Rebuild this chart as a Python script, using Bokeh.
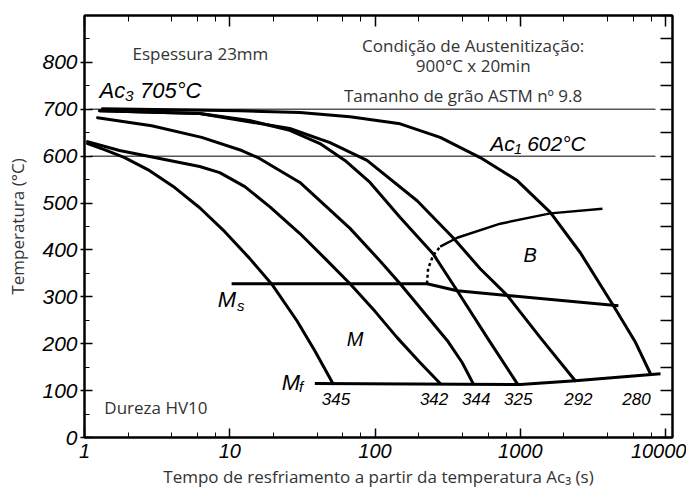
from bokeh.plotting import figure
from bokeh.models import (Range1d, LogAxis, LinearAxis, LogTicker, SingleIntervalTicker,
                          FixedTicker, CustomJSTickFormatter)
from bokeh.core.properties import value
from bokeh.embed import file_html
from bokeh.resources import INLINE

# ---- data (time in s, temperature in degC) ----
c345_t = [1.05, 1.37, 1.89, 2.81, 4.18, 6.21, 9.24, 13.7, 19.8, 29.0, 38.5, 51.3]
c345_T = [627, 614, 597, 569, 533, 490, 439, 382, 324, 249, 185, 115]

c342_t = [1.05, 1.74, 3.29, 6.21, 8.53, 12.7, 18.9, 30.4, 45.2, 67.3, 100, 142, 204, 281]
c342_T = [631, 612, 595, 578, 565, 535, 492, 435, 382, 328, 269, 213, 160, 115]

c344_t = [1.23, 2.90, 6.41, 12.1, 15.6, 30.4, 67.3, 108, 149, 221, 314, 398, 474]
c344_T = [682, 665, 640, 612, 597, 544, 446, 377, 328, 264, 207, 160, 115]

c325_t = [1.27, 6.21, 13.7, 25.9, 41.8, 62.1, 92.4, 149, 251, 368, 592, 953]
c325_T = [697, 691, 676, 655, 627, 591, 544, 469, 392, 313, 213, 115]

c292_t = [1.27, 6.21, 25.9, 49.0, 88.1, 195, 345, 530, 813, 1374, 2390]
c292_T = [697, 691, 659, 629, 591, 505, 426, 360, 303, 213, 121]

c280_t = [1.33, 11.7, 30.4, 67.3, 149, 281, 530, 953, 1610, 2592, 4380, 6210, 7880]
c280_T = [701, 697, 693, 684, 669, 640, 597, 548, 480, 394, 281, 203, 136]

ms_t = [10.3, 228, 368, 813, 4740]
ms_T = [328, 328, 313, 303, 281]

mf_t = [38.5, 1000, 2390, 9240]
mf_T = [115, 113, 121, 136]

bs_dash_t = [228, 232, 251, 281]
bs_dash_T = [328, 360, 388, 407]
bs_t = [281, 368, 728, 1610, 3680]
bs_T = [407, 426, 456, 478, 488]

ac_t = [1.1, 8530]
ac3_T = 700
ac1_T = 600

hard_labels = ["345", "342", "344", "325", "292", "280"]
hard_t = [53.8, 255, 497, 969, 2512, 6310]
hard_T = [83, 83, 83, 83, 83, 83]

y_major = [0, 100, 200, 300, 400, 500, 600, 700, 800]
y_minor = [50, 150, 250, 350, 450, 550, 650, 750, 850]

# ---- figure ----
p = figure(width=686, height=493, x_axis_type="log",
           x_range=Range1d(1, 11170), y_range=Range1d(0, 900),
           output_backend="svg", toolbar_location=None,
           min_border_left=84, min_border_right=14, min_border_top=15, min_border_bottom=56)
p.grid.visible = False
p.outline_line_color = "black"
p.outline_line_width = 2
p.background_fill_color = "white"
p.border_fill_color = "white"

# bottom axis
xa = p.xaxis[0]
xa.ticker = LogTicker()
xa.formatter = CustomJSTickFormatter(code="return String(Math.round(tick));")
xa.axis_line_width = 2
xa.major_tick_in = 9
xa.major_tick_out = 0
xa.minor_tick_in = 5
xa.minor_tick_out = 0
xa.major_tick_line_width = 1.5
xa.major_label_text_font = "Liberation Sans"
xa.major_label_text_font_style = "italic"
xa.major_label_text_font_size = "20px"
xa.major_label_text_color = "black"
xa.major_label_standoff = 6
xa.axis_label = "Tempo de resfriamento a partir da temperatura Ac\u2083 (s)"
xa.axis_label_text_font = "Open Sans"
xa.axis_label_text_font_style = "normal"
xa.axis_label_text_font_size = "17px"
xa.axis_label_text_color = "#333333"
xa.axis_label_standoff = 4

# left axis
ya = p.yaxis[0]
ya.ticker = FixedTicker(ticks=y_major, minor_ticks=y_minor)
ya.axis_line_width = 2
ya.major_tick_in = 8
ya.major_tick_out = 4
ya.minor_tick_in = 5
ya.minor_tick_out = 0
ya.major_tick_line_width = 1.5
ya.major_label_text_font = "Liberation Sans"
ya.major_label_text_font_style = "italic"
ya.major_label_text_font_size = "21px"
ya.major_label_text_color = "black"
ya.major_label_standoff = 3
ya.axis_label = "Temperatura (\u00b0C)"
ya.axis_label_text_font = "Open Sans"
ya.axis_label_text_font_style = "normal"
ya.axis_label_text_font_size = "17px"
ya.axis_label_text_color = "#333333"
ya.axis_label_standoff = 10

# top axis
ta = LogAxis(ticker=LogTicker(), formatter=CustomJSTickFormatter(code="return '';"),
             major_label_text_font_size="2px", major_label_standoff=0,
             major_tick_in=11, major_tick_out=0, minor_tick_in=6, minor_tick_out=0,
             axis_line_width=2, major_tick_line_width=1.5)
p.add_layout(ta, "above")

# right axis
ra = LinearAxis(ticker=SingleIntervalTicker(interval=50, num_minor_ticks=0),
                formatter=CustomJSTickFormatter(code="return '';"),
                major_label_text_font_size="2px", major_label_standoff=0,
                major_tick_in=12, major_tick_out=0, minor_tick_in=0, minor_tick_out=0,
                axis_line_width=2, major_tick_line_width=1.5)
p.add_layout(ra, "right")

# Ac lines
p.line(ac_t, [ac3_T, ac3_T], line_color="#555555", line_width=1.5)
p.line(ac_t, [ac1_T, ac1_T], line_color="#555555", line_width=1.5)

# cooling curves
for tt, TT in [(c345_t, c345_T), (c342_t, c342_T), (c344_t, c344_T),
               (c325_t, c325_T), (c292_t, c292_T), (c280_t, c280_T)]:
    p.line(tt, TT, line_color="black", line_width=3, line_join="round", line_cap="round")

p.line(ms_t, ms_T, line_color="black", line_width=3, line_join="round")
p.line(mf_t, mf_T, line_color="black", line_width=3, line_join="round")
p.line(bs_dash_t, bs_dash_T, line_color="black", line_width=2.5, line_dash="3 3")
p.line(bs_t, bs_T, line_color="black", line_width=2.5, line_join="round")

# printed texts
pr = dict(text_font=value("Open Sans"), text_font_size="17px", text_color="#333333",
          text_baseline="middle")
p.text(x=[2.14], y=[819], text=["Espessura 23mm"], text_align="left", **pr)
p.text(x=[474], y=[836], text=["Condi\u00e7\u00e3o de Austenitiza\u00e7\u00e3o:"], text_align="center", **pr)
p.text(x=[474], y=[793], text=["900\u00b0C x 20min"], text_align="center", **pr)
p.text(x=[404], y=[729], text=["Tamanho de gr\u00e3o ASTM n\u00ba 9.8"], text_align="center", **pr)
p.text(x=[1.37], y=[64], text=["Dureza HV10"], text_align="left", **pr)

# handwritten labels
hw = dict(text_font=value("Liberation Sans"), text_font_style="italic", text_color="black",
          text_baseline="middle")
p.text(x=[1.27], y=[740], text=["Ac\u2083 705\u00b0C"], text_font_size="22px", text_align="left", **hw)
p.text(x=[621], y=[627], text=["Ac\u2081 602\u00b0C"], text_font_size="21px", text_align="left", **hw)
p.text(x=[8.27], y=[295], text=["M"], text_font_size="22px", text_align="left", **hw)
p.text(x=[11.2], y=[282], text=["s"], text_font_size="15px", text_align="left", **hw)
p.text(x=[22.8], y=[118], text=["M"], text_font_size="22px", text_align="left", **hw)
p.text(x=[30.0], y=[108], text=["f"], text_font_size="15px", text_align="left", **hw)
p.text(x=[72.8], y=[211], text=["M"], text_font_size="20px", text_align="center", **hw)
p.text(x=[1172], y=[390], text=["B"], text_font_size="20px", text_align="center", **hw)
p.text(x=hard_t, y=hard_T, text=hard_labels, text_font_size="17px", text_align="center", **hw)

open("out.html", "w").write(file_html(p, INLINE))
